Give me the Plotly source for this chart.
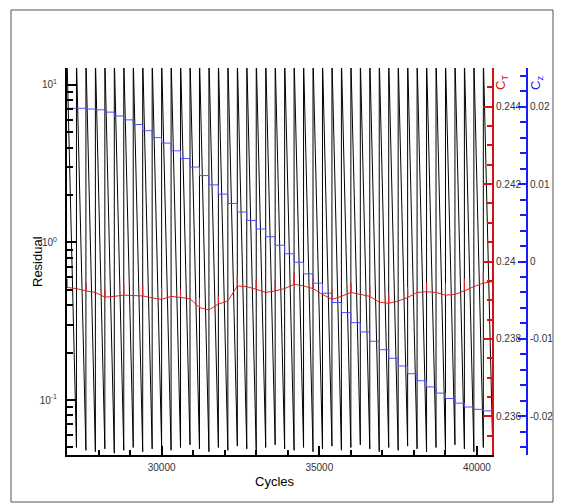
import plotly.graph_objects as go

# ---------------- data ----------------
# start of each 300-cycle inner-iteration period
cycle_starts = list(range(27000, 40201, 300))          # 45 periods
# residual reached at the start (peak) and end (minimum) of every period
res_peak = [15.0, 14.8, 15.2, 15.0, 14.9, 15.1, 15.0, 14.8, 15.2, 15.0,
            14.9, 15.1, 15.0, 14.8, 15.2, 15.0, 14.9, 15.1, 15.0, 14.8,
            15.2, 15.0, 14.9, 15.1, 15.0, 14.8, 15.2, 15.0, 14.9, 15.1,
            15.0, 14.8, 15.2, 15.0, 14.9, 15.1, 15.0, 14.8, 15.2, 15.0,
            14.9, 15.1, 15.0, 14.8, 15.2]
res_min = [0.050, 0.048, 0.047, 0.049, 0.046, 0.048, 0.050, 0.047, 0.049, 0.051,
           0.048, 0.050, 0.052, 0.049, 0.047, 0.050, 0.048, 0.051, 0.049, 0.047,
           0.050, 0.052, 0.049, 0.048, 0.050, 0.047, 0.049, 0.051, 0.048, 0.050,
           0.052, 0.049, 0.047, 0.050, 0.048, 0.051, 0.049, 0.047, 0.050, 0.048,
           0.052, 0.049, 0.047, 0.050, 0.048]

# coefficient samples, one per period boundary
coef_cycles = list(range(27000, 40501, 300))          # 46 samples
ct_base = [0.23933, 0.23930, 0.23924, 0.23920, 0.23908, 0.23910, 0.23913, 0.23912,
           0.23911, 0.23906, 0.23902, 0.23910, 0.23907, 0.23904, 0.23881, 0.23875,
           0.23890, 0.23898, 0.23937, 0.23935, 0.23928, 0.23920, 0.23924, 0.23930,
           0.23941, 0.23937, 0.23930, 0.23915, 0.23902, 0.23910, 0.23920, 0.23915,
           0.23910, 0.23895, 0.23892, 0.23898, 0.23907, 0.23920, 0.23922, 0.23920,
           0.23913, 0.23915, 0.23924, 0.23935, 0.23944, 0.23948]
# short thrust overshoot at every second period (every 600 cycles)
ct_spike = [0.00022, 0.00023, 0.00020, 0.00028, 0.00026, 0.00030, 0.00022, 0.00025,
            0.00021, 0.00027, 0.00024, 0.00026, 0.00030, 0.00027, 0.00025, 0.00024,
            0.00026, 0.00023, 0.00027, 0.00025, 0.00030, 0.00031, 0.00028]
cz_steps = [0.0198, 0.0198, 0.0197, 0.0196, 0.0193, 0.0188, 0.0183, 0.0177, 0.0169,
            0.0160, 0.0153, 0.0143, 0.0133, 0.0122, 0.0111, 0.0099, 0.0087, 0.0075,
            0.0064, 0.0053, 0.0042, 0.0032, 0.0021, 0.0010, -0.0001, -0.0016, -0.0028,
            -0.0041, -0.0053, -0.0066, -0.0079, -0.0091, -0.0103, -0.0114, -0.0125,
            -0.0135, -0.0145, -0.0154, -0.0162, -0.0170, -0.0177, -0.0183, -0.0188,
            -0.0191, -0.0193, -0.0194]

x_ticks = [30000, 35000, 40000]
x_ticktext = ["30000", "35000", "40000"]
res_ticks = [0.1, 1, 10]
res_ticktext = ["10<sup>-1</sup>", "10<sup>0</sup>", "10<sup>1</sup>"]
ct_ticks = [0.236, 0.238, 0.24, 0.242, 0.244]
ct_ticktext = ["0.236", "0.238", "0.24", "0.242", "0.244"]
cz_ticks = [-0.02, -0.01, 0, 0.01, 0.02]
cz_ticktext = ["-0.02", "-0.01", "0", "0.01", "0.02"]

# ---------------- build polylines ----------------
# residual: vertical rise at each period start, then decay over the period
res_x, res_y = [], []
prev_min = None
for c, pk, mn in zip(cycle_starts, res_peak, res_min):
    if prev_min is not None:
        res_x.append(c)
        res_y.append(prev_min)
    res_x += [c, c + 300]
    res_y += [pk, mn]
    prev_min = mn

# thrust coefficient with a thin spike every second sample
ct_x, ct_y = [], []
k = 0
for i, (c, v) in enumerate(zip(coef_cycles, ct_base)):
    ct_x.append(c)
    ct_y.append(v)
    if i % 2 == 0 and k < len(ct_spike):
        ct_x += [c, c]
        ct_y += [v + ct_spike[k], v]
        k += 1

# ---------------- figure ----------------
W, H = 564, 504
ML, MR, MT, MB = 67, 37, 68, 49
PW, PH = W - ML - MR, H - MT - MB
X_END = (492 - ML) / PW


def px(xp):
    return (xp - ML) / PW


def py(yp):
    return (H - MB - yp) / PH


RED = "#d81010"
BLUE = "#1a1aff"
FONT = "Liberation Sans, Arial, sans-serif"

fig = go.Figure()
fig.add_trace(go.Scatter(x=res_x, y=res_y, mode="lines", yaxis="y",
                         line=dict(color="black", width=1),
                         showlegend=False, hoverinfo="skip"))
fig.add_trace(go.Scatter(x=ct_x, y=ct_y, mode="lines", yaxis="y2",
                         line=dict(color="#e02020", width=1),
                         showlegend=False, hoverinfo="skip"))
fig.add_trace(go.Scatter(x=coef_cycles, y=cz_steps, mode="lines", yaxis="y3",
                         line=dict(color="#5050f0", width=1, shape="hv"),
                         showlegend=False, hoverinfo="skip"))

tickfont = dict(family=FONT, size=10, color="#333333")


def title_note(text, xp, yp, color, angle=0):
    return dict(text=text, x=px(xp), y=py(yp), xref="paper", yref="paper",
                xanchor="center", yanchor="middle", textangle=angle,
                showarrow=False, font=dict(family=FONT, size=13, color=color))


fig.update_layout(
    width=W, height=H,
    margin=dict(l=ML, r=MR, t=MT, b=MB, autoexpand=False),
    paper_bgcolor="white", plot_bgcolor="white",
    xaxis=dict(domain=[0, X_END], range=[27000, 40475],
               showline=True, linecolor="black", linewidth=2,
               ticks="inside", ticklen=9, tickwidth=1.5, tickcolor="black",
               tickmode="array", tickvals=x_ticks, ticktext=x_ticktext,
               minor=dict(tickmode="linear", tick0=27000, dtick=1000,
                          ticks="inside", ticklen=5, tickcolor="black"),
               showgrid=False, zeroline=False, tickfont=tickfont,
               ticklabelstandoff=2),
    yaxis=dict(type="log", range=[-1.3487, 1.1072],
               showline=True, linecolor="black", linewidth=2,
               ticks="inside", ticklen=10, tickwidth=1.5, tickcolor="black",
               tickmode="array", tickvals=res_ticks, ticktext=res_ticktext,
               minor=dict(dtick="D1", ticks="inside", ticklen=6, tickcolor="black"),
               showgrid=False, zeroline=False, tickfont=tickfont,
               ticklabelstandoff=6),
    yaxis2=dict(overlaying="y", side="right", anchor="x",
                range=[0.235, 0.245],
                showline=True, linecolor=RED, linewidth=2,
                ticks="inside", ticklen=9, tickwidth=1.5, tickcolor=RED,
                tickmode="array", tickvals=ct_ticks, ticktext=ct_ticktext,
                minor=dict(tickmode="linear", tick0=0.235, dtick=0.0005,
                           ticks="inside", ticklen=5, tickcolor=RED),
                showgrid=False, zeroline=False, tickfont=tickfont),
    yaxis3=dict(overlaying="y", side="right", anchor="free", position=1.0,
                range=[-0.025, 0.025],
                showline=True, linecolor=BLUE, linewidth=2,
                ticks="inside", ticklen=8, tickwidth=1.5, tickcolor=BLUE,
                tickmode="array", tickvals=cz_ticks, ticktext=cz_ticktext,
                minor=dict(tickmode="linear", tick0=0, dtick=0.002,
                           ticks="inside", ticklen=6, tickcolor=BLUE),
                showgrid=False, zeroline=False, tickfont=tickfont),
    shapes=[dict(type="rect", xref="paper", yref="paper",
                 x0=px(11), x1=px(553), y0=py(502), y1=py(10),
                 line=dict(color="#555555", width=1), layer="below")],
    annotations=[
        title_note("Residual", 37, 262, "black", -90),
        title_note("Cycles", 275, 482, "black"),
        title_note("C<sub>T</sub>", 502, 83, RED, -90),
        title_note("C<sub>z</sub>", 537, 83, BLUE, -90),
    ],
)

fig.write_html("out.html")
